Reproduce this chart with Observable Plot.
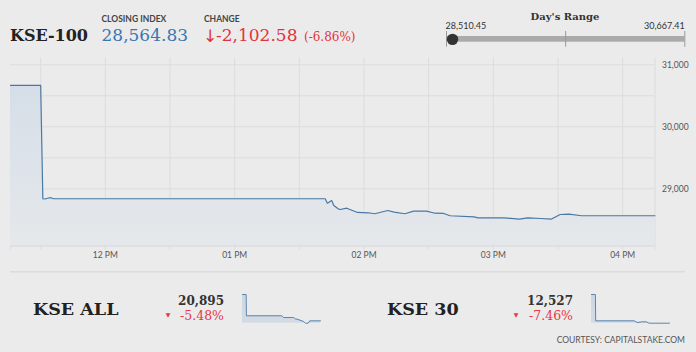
<!DOCTYPE html>
<html>
<head>
<meta charset="utf-8">
<script src="https://cdn.jsdelivr.net/npm/d3@7"></script>
<script src="https://cdn.jsdelivr.net/npm/@observablehq/plot@0.6"></script>
<style>
  html, body { margin: 0; padding: 0; background: #ebebeb; }
  #root { position: relative; width: 696px; height: 352px; background: #ebebeb; overflow: hidden; }
  .abs { position: absolute; }
  svg { overflow: visible; }
</style>
</head>
<body>
<div id="root"></div>
<script>
// ---------- data ----------
const indexName = "KSE-100";
const closingIndex = 28564.83;
const changeValue = -2102.58;
const changePct = -6.86;
const dayLow = 28510.45;
const dayHigh = 30667.41;

const mainTimes = ["11:16","11:30","11:31","11:32","11:34","11:35","11:36","13:42","13:43","13:45","13:46","13:48","13:49","13:52","13:57","14:02","14:05","14:11","14:14","14:19","14:23","14:29","14:33","14:37","14:40","14:51","14:53","14:59","15:05","15:12","15:16","15:22","15:27","15:31","15:35","15:41","16:15"];
const mainValues = [30667.41,30667.41,28839,28835,28855,28852,28839,28839,28768,28811,28731,28677,28666,28687,28618,28613,28597,28650,28623,28597,28639,28639,28606,28602,28565,28548,28532,28532,28532,28510.45,28532,28521,28512,28585,28590,28565,28564.83];

const yGridValues = [28500, 29000, 29500, 30000, 30500, 31000];
const yTickValues = [29000, 30000, 31000];
const yDomain = [28077, 31110];

const allName = "KSE ALL";
const allClose = 20895;
const allPct = -5.48;
const allTimes = ["11:16","11:30","11:31","13:47","13:54","14:32","14:40","14:45","15:11","15:17","15:28","15:34","16:15"];
const allValues = [22107,22107,21128,21128,21049,21049,20975,20975,20863,20788,20788,20895,20895];

const thirtyName = "KSE 30";
const thirtyClose = 12527;
const thirtyPct = -7.46;
const thirtyTimes = ["11:16","11:31","11:32","14:00","14:11","14:30","14:46","14:57","16:15"];
const thirtyValues = [13537,13537,12610,12610,12549,12574,12574,12527,12527];

const courtesy = "COURTESY: CAPITALSTAKE.COM";

// ---------- helpers ----------
const parseT = s => { const [h, m] = s.split(":").map(Number); return new Date(Date.UTC(2020, 2, 9, h, m)); };
const toRows = (ts, vs) => ts.map((t, i) => ({ t: parseT(t), v: vs[i] }));
const mainData = toRows(mainTimes, mainValues);
const allData = toRows(allTimes, allValues);
const thirtyData = toRows(thirtyTimes, thirtyValues);
const xDomain = [mainData[0].t, mainData[mainData.length - 1].t];
const halfHours = d3.utcMinute.every(30).range(xDomain[0], xDomain[1]);
const fmt2 = d3.format(",.2f");
const fmt0 = d3.format(",");
const root = document.getElementById("root");
const place = (el, left, top) => { el.classList.add("abs"); el.style.left = left + "px"; el.style.top = top + "px"; root.appendChild(el); return el; };

// ---------- main chart ----------
const blue = "#4a78a6";
const grid = "#dcdcdc";
const main = Plot.plot({
  width: 696, height: 215,
  marginLeft: 10, marginRight: 41.5, marginTop: 7.5, marginBottom: 19.5,
  style: { background: "transparent", fontFamily: "Lato", fontSize: "8.5px", color: "#555", overflow: "visible" },
  x: { type: "utc", domain: xDomain, label: null },
  y: { domain: yDomain, label: null },
  marks: [
    Plot.gridY(yGridValues, { stroke: grid, strokeOpacity: 1, strokeWidth: 1 }),
    Plot.gridX([...halfHours, xDomain[1]], { stroke: grid, strokeOpacity: 1, strokeWidth: 1 }),
    Plot.areaY(mainData, { x: "t", y1: () => yDomain[0], y2: "v", fill: "url(#kseGrad)", curve: "linear" }),
    Plot.lineY(mainData, { x: "t", y: "v", stroke: blue, strokeWidth: 1.2 }),
    Plot.ruleY([yDomain[0]], { stroke: "#d6d6d6", strokeWidth: 1 }),
    Plot.axisX([xDomain[0], ...halfHours, xDomain[1]], {
      label: null, tickSize: 4, tickPadding: 2, stroke: grid, strokeOpacity: 1, fill: "#555",
      tickFormat: d => (d.getUTCMinutes() === 0 && +d !== +xDomain[0] && +d !== +xDomain[1]) ? d3.utcFormat("%I %p")(d) : ""
    }),
    Plot.axisY(yTickValues, { label: null, anchor: "right", tickSize: 0, tickPadding: 7, tickFormat: fmt0, fill: "#555" })
  ]
});
const ns = "http://www.w3.org/2000/svg";
const defs = document.createElementNS(ns, "defs");
defs.innerHTML = `<linearGradient id="kseGrad" x1="0" y1="0" x2="0" y2="1">
  <stop offset="0" stop-color="#d5dee8"/>
  <stop offset="1" stop-color="#e5e8eb"/>
</linearGradient>
<linearGradient id="sparkGrad" x1="0" y1="0" x2="0" y2="1">
  <stop offset="0" stop-color="#ccd7e3"/>
  <stop offset="1" stop-color="#d3dbe5"/>
</linearGradient>`;
main.insertBefore(defs, main.firstChild);
place(main, 0, 50);

// ---------- day's range ----------
const range = Plot.plot({
  width: 266, height: 50,
  marginLeft: 16, marginRight: 11.7, marginTop: 31, marginBottom: 3.3,
  style: { background: "transparent", fontFamily: "Lato", fontSize: "9px", color: "#333", overflow: "visible" },
  x: { domain: [dayLow, dayHigh], axis: null },
  marks: [
    Plot.barX([{ a: dayLow, b: dayHigh }], { x1: "a", x2: "b", fill: "#aaaaaa", insetTop: 5, insetBottom: 5 }),
    Plot.tickX([dayLow, (dayLow + dayHigh) / 2, dayHigh], { x: d => d, stroke: "#999", strokeWidth: 1 }),
    Plot.dot([closingIndex], { x: d => d, r: 5.7, fill: "#333", stroke: "none" }),
    Plot.text([dayLow], { x: d => d, text: d => fmt2(d), frameAnchor: "top", lineAnchor: "bottom", textAnchor: "start", dx: -1, dy: -2.7, fill: "#333" }),
    Plot.text([dayHigh], { x: d => d, text: d => fmt2(d), frameAnchor: "top", lineAnchor: "bottom", textAnchor: "end", dy: -2.7, fill: "#333" })
  ]
});
place(range, 430, 0);

// ---------- sparklines ----------
function spark(data) {
  const ext = d3.extent(data, d => d.v);
  return Plot.plot({
    width: 79, height: 31,
    marginLeft: 0, marginRight: 1, marginTop: 1, marginBottom: 1.3,
    style: { background: "transparent", overflow: "visible" },
    x: { type: "utc", domain: xDomain, axis: null },
    y: { domain: ext, axis: null },
    marks: [
      Plot.areaY(data, { x: "t", y1: () => ext[0], y2: "v", fill: "url(#sparkGrad)" }),
      Plot.lineY(data, { x: "t", y: "v", stroke: "#5a84ae", strokeWidth: 1 })
    ]
  });
}
place(spark(allData), 242, 293);
place(spark(thirtyData), 591, 293);

// ---------- texts overlay ----------
const red = "#e2333c";
const serif = "DejaVu Serif";
const txt = [
  { s: indexName, x: 10, y: 41, f: serif, size: 16, w: "bold", c: "#222" },
  { s: "CLOSING INDEX", x: 101.5, y: 22.3, f: "Lato", size: 8.5, w: "bold", c: "#444" },
  { s: fmt2(closingIndex), x: 101.5, y: 41, f: serif, size: 17, w: "normal", c: "#3a77b0" },
  { s: "CHANGE", x: 204, y: 22.3, f: "Lato", size: 8.5, w: "bold", c: "#444" },
  { s: "↓", x: 203, y: 41.5, f: "DejaVu Sans", size: 17, w: "normal", c: red },
  { s: (changeValue < 0 ? "-" : "") + fmt2(Math.abs(changeValue)), x: 216, y: 41, f: serif, size: 17, w: "normal", c: red },
  { s: "(" + changePct.toFixed(2) + "%)", x: 304, y: 41, f: serif, size: 12, w: "normal", c: red },
  { s: "Day's Range", x: 565, y: 19.5, f: serif, size: 10, w: "bold", c: "#333", a: "middle" },
  { s: allName, x: 33, y: 315, f: serif, size: 17.5, w: "bold", c: "#222" },
  { s: fmt0(allClose), x: 224, y: 304.5, f: serif, size: 12, w: "bold", c: "#333", a: "end" },
  { s: allPct.toFixed(2) + "%", x: 224, y: 320, f: serif, size: 12.5, w: "normal", c: "#e8354a", a: "end" },
  { s: "▼", x: 168, y: 317, f: "DejaVu Sans", size: 6, w: "normal", c: "#e8354a", a: "middle" },
  { s: thirtyName, x: 387, y: 315, f: serif, size: 17.5, w: "bold", c: "#222" },
  { s: fmt0(thirtyClose), x: 573, y: 304.5, f: serif, size: 12, w: "bold", c: "#333", a: "end" },
  { s: thirtyPct.toFixed(2) + "%", x: 573, y: 320, f: serif, size: 12.5, w: "normal", c: "#e8354a", a: "end" },
  { s: "▼", x: 516, y: 317, f: "DejaVu Sans", size: 6, w: "normal", c: "#e8354a", a: "middle" },
  { s: courtesy, x: 685, y: 343.3, f: "Lato", size: 8.5, w: "normal", c: "#555", a: "end" }
];
const ov = document.createElementNS(ns, "svg");
ov.setAttribute("width", 696); ov.setAttribute("height", 352);
ov.style.pointerEvents = "none";
let html = `<line x1="10" x2="685" y1="271.7" y2="271.7" stroke="#dcdcdc" stroke-width="1.5"/>`;
for (const t of txt) {
  const e = document.createElementNS(ns, "text");
  e.setAttribute("x", t.x); e.setAttribute("y", t.y);
  e.setAttribute("font-family", t.f); e.setAttribute("font-size", t.size);
  e.setAttribute("font-weight", t.w); e.setAttribute("fill", t.c);
  if (t.a) e.setAttribute("text-anchor", t.a);
  e.textContent = t.s;
  ov.appendChild(e);
}
ov.insertAdjacentHTML("afterbegin", html);
place(ov, 0, 0);
</script>
</body>
</html>
